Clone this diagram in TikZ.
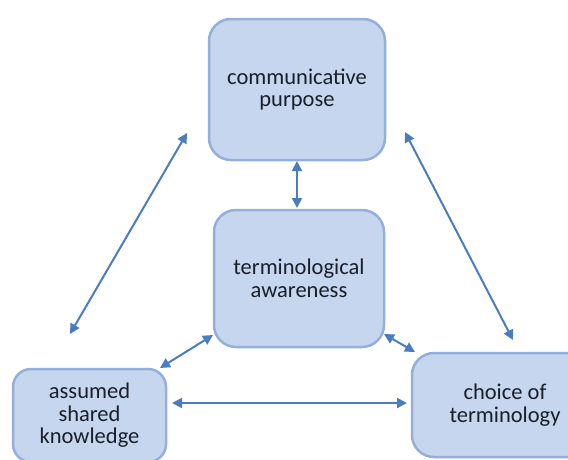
\documentclass[tikz,border=0pt]{standalone}
\usepackage{fontspec}
\setmainfont{Carlito}
\usetikzlibrary{arrows.meta}
\definecolor{boxfill}{HTML}{C6D6EE}
\definecolor{boxdraw}{HTML}{93B0DA}
\definecolor{arrowc}{HTML}{4A7DBF}
\definecolor{textc}{HTML}{1A1F2A}
\begin{document}
\begin{tikzpicture}[x=1pt,y=-1pt,
  cbox/.style={draw=boxdraw, fill=boxfill, line width=2.5pt, rounded corners=22pt,
    align=center, text=textc, inner sep=0pt,
    font=\fontsize{22.5pt}{22.5pt}\selectfont},
  link/.style={draw=arrowc, line width=2pt, {Triangle[length=10pt,width=10pt]}-{Triangle[length=10pt,width=10pt]}}]
\useasboundingbox (0,0) rectangle (568,459);
\fill[white] (0,0) rectangle (568,459);
\node[cbox, minimum width=176pt, minimum height=141pt] (top) at (297,89.5) {communicative\\purpose};
\node[cbox, minimum width=170pt, minimum height=137pt] (mid) at (299,278.5) {terminological\\awareness};
\node[cbox, minimum width=153pt, minimum height=93pt, rounded corners=18pt] (bl) at (89.5,415.5) {assumed\\shared\\knowledge};
\node[cbox, minimum width=186pt, minimum height=104pt] (br) at (505,405) {choice of\\terminology};
% free ends of the long diagonals and contact points
\coordinate (la) at (187,133);
\coordinate (lb) at (70,334);
\coordinate (ra) at (405,132);
\coordinate (rb) at (513,340);
\coordinate (ts) at (297,161);
\coordinate (mn) at (297,208);
\coordinate (msw) at (213,335);
\coordinate (blne) at (160,368);
\coordinate (mse) at (384,334);
\coordinate (brnw) at (415,352);
\coordinate (ble) at (172,403);
\coordinate (brw) at (407,403);
\draw[link] (la) -- (lb);
\draw[link] (ra) -- (rb);
\draw[link] (ts) -- (mn);
\draw[link] (msw) -- (blne);
\draw[link] (mse) -- (brnw);
\draw[link] (ble) -- (brw);
\end{tikzpicture}
\end{document}
